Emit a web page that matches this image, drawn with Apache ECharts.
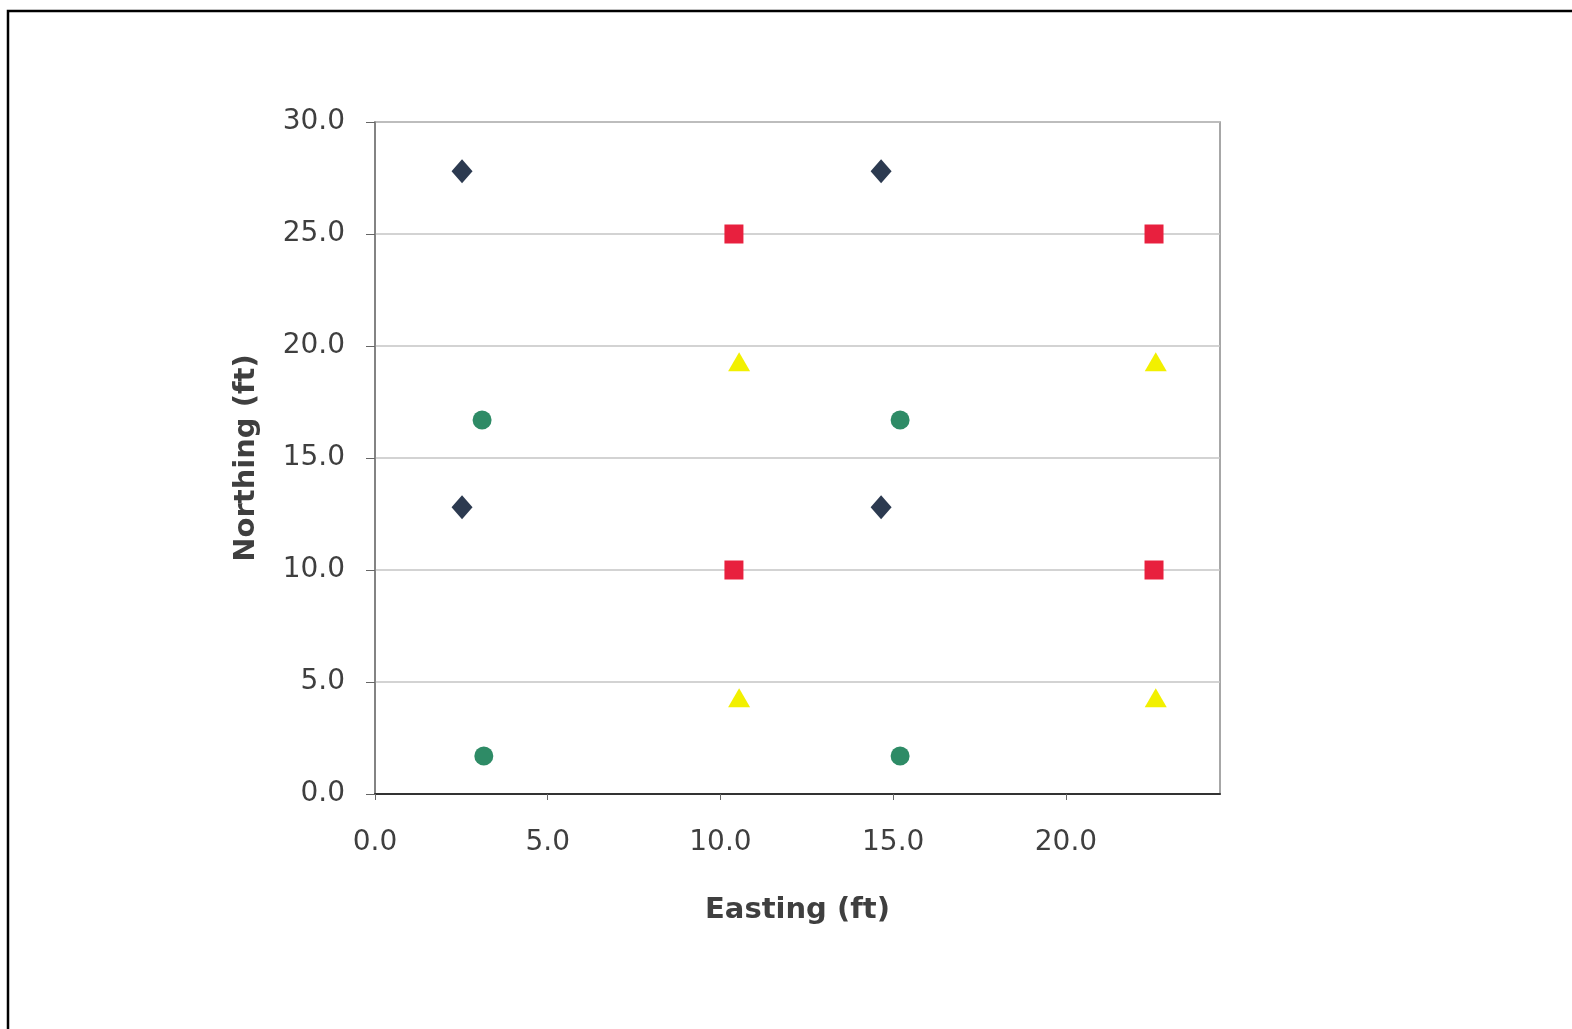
<!DOCTYPE html>
<html>
<head>
<meta charset="utf-8">
<script src="https://cdn.jsdelivr.net/npm/echarts@6/dist/echarts.min.js"></script>
<style>
  html, body { margin: 0; padding: 0; background: #fff; }
  #main { width: 1572px; height: 1029px; }
</style>
</head>
<body>
<div id="main"></div>
<script>
// survey points, [easting, northing] in ft
var diamondPts = [[2.52, 27.8], [14.65, 27.8], [2.52, 12.8], [14.65, 12.8]];
var squarePts = [[10.39, 25.0], [22.55, 25.0], [10.39, 10.0], [22.55, 10.0]];
var trianglePts = [[10.54, 19.3], [22.6, 19.3], [10.54, 4.3], [22.6, 4.3]];
var circlePts = [[3.1, 16.7], [15.2, 16.7], [3.15, 1.7], [15.2, 1.7]];

var xName = "Easting (ft)";
var yName = "Northing (ft)";

var myChart = echarts.init(document.getElementById("main"));

var labelStyle = {
  color: "#3f3f3f",
  fontFamily: "DejaVu Sans",
  fontSize: 28,
  formatter: function (v) { return v.toFixed(1); }
};

var option = {
  backgroundColor: "#fff",
  animation: false,
  graphic: [
    {
      type: "polyline",
      shape: { points: [[8, 1029], [8, 11], [1572, 11]] },
      style: { stroke: "#000", lineWidth: 2.5, fill: null }
    }
  ],
  grid: {
    left: 375,
    right: 352,
    top: 122,
    bottom: 235,
    show: true,
    borderColor: "#8a8a8a",
    borderWidth: 1.5
  },
  xAxis: {
    type: "value",
    min: 0,
    max: 24.46,
    interval: 5,
    name: xName,
    nameLocation: "middle",
    nameGap: 102,
    nameTextStyle: {
      color: "#3f3f3f",
      fontFamily: "DejaVu Sans",
      fontWeight: "bold",
      fontSize: 29
    },
    axisLine: { show: true, lineStyle: { color: "#333", width: 2 } },
    axisTick: { show: true, inside: false, length: 6, lineStyle: { color: "#666" } },
    splitLine: { show: false },
    axisLabel: Object.assign({ margin: 35, showMaxLabel: false }, labelStyle)
  },
  yAxis: {
    type: "value",
    min: 0,
    max: 30,
    interval: 5,
    name: yName,
    nameLocation: "middle",
    nameGap: 114,
    nameTextStyle: {
      color: "#3f3f3f",
      fontFamily: "DejaVu Sans",
      fontWeight: "bold",
      fontSize: 29
    },
    axisLine: { show: true, lineStyle: { color: "#777", width: 1.5 } },
    axisTick: { show: true, inside: false, length: 9, lineStyle: { color: "#666" } },
    splitLine: { show: true, lineStyle: { color: "#c4c4c4", width: 1.5 } },
    axisLabel: Object.assign({ margin: 30 }, labelStyle)
  },
  series: [
    {
      type: "scatter",
      symbol: "diamond",
      symbolSize: [21, 24],
      itemStyle: { color: "#2c3a50", opacity: 1 },
      data: diamondPts
    },
    {
      type: "scatter",
      symbol: "rect",
      symbolSize: 19,
      itemStyle: { color: "#e8203e", opacity: 1 },
      data: squarePts
    },
    {
      type: "scatter",
      symbol: "triangle",
      symbolSize: [22, 19],
      itemStyle: { color: "#f2f000", opacity: 1 },
      data: trianglePts
    },
    {
      type: "scatter",
      symbol: "circle",
      symbolSize: 19,
      itemStyle: { color: "#2e8b66", opacity: 1 },
      data: circlePts
    }
  ]
};

myChart.setOption(option);
</script>
</body>
</html>
